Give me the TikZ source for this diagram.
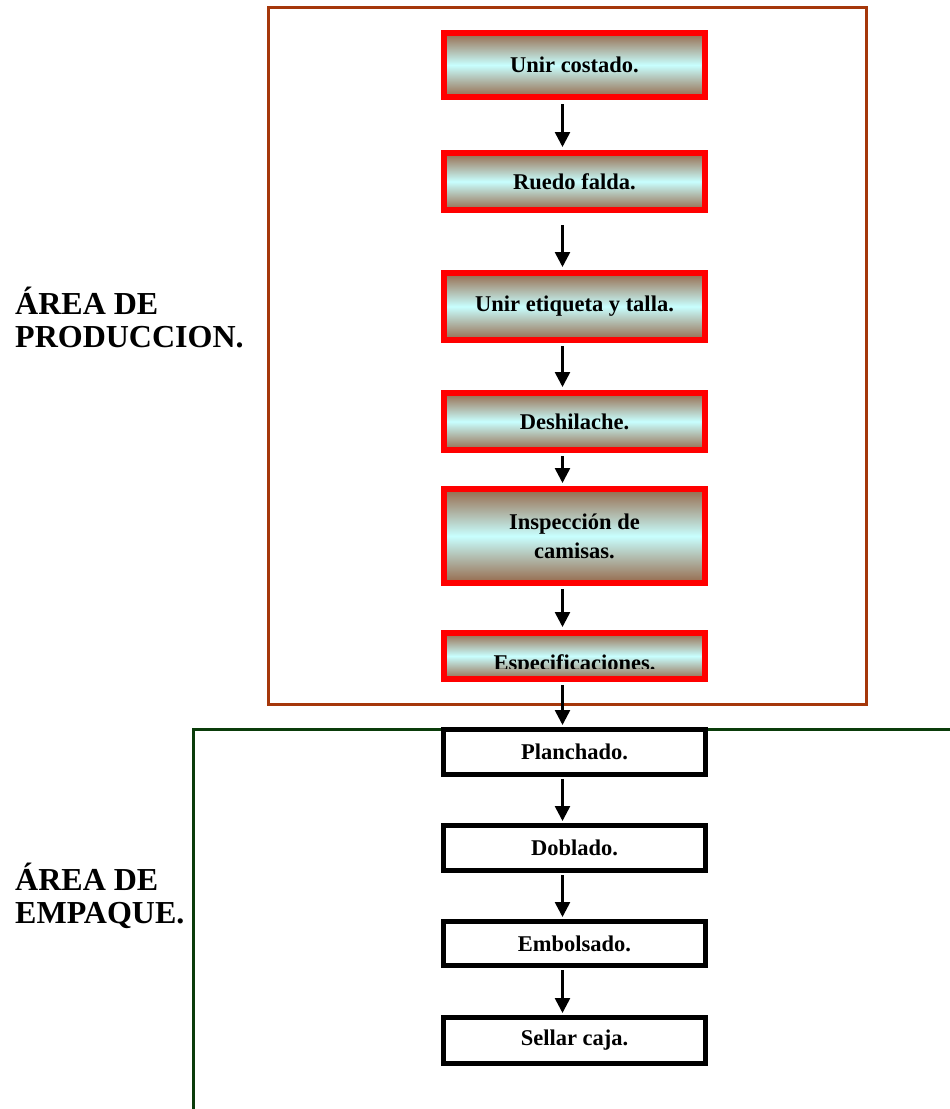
\documentclass[tikz,border=0pt]{standalone}
\usepackage{fontspec}
\setmainfont{Liberation Serif}
\usetikzlibrary{arrows.meta}
\definecolor{areabrown}{RGB}{165,55,10}
\definecolor{areagreen}{RGB}{10,60,10}
\definecolor{shadebrown}{RGB}{150,105,75}
\definecolor{shadecyan}{RGB}{200,255,255}
\tikzset{
  boxfont/.style={font=\fontsize{22.5}{29}\selectfont\bfseries},
  redbox/.style={draw=red, line width=6pt, top color=shadebrown, bottom color=shadebrown, middle color=shadecyan, minimum width=261pt, align=center, boxfont, inner sep=0pt},
  blackbox/.style={draw=black, line width=5pt, fill=white, minimum width=262pt, align=center, boxfont, inner sep=0pt},
  flow/.style={-{Triangle[width=15pt,length=15pt]}, line width=2.6pt, black},
  arealabel/.style={anchor=base west, font=\fontsize{32}{29}\selectfont\bfseries, inner sep=0pt}
}
\begin{document}
\begin{tikzpicture}[x=1pt,y=-1pt]
\useasboundingbox (0,0) rectangle (950,1109);
% areas
\draw[areabrown, line width=3pt] (268,7) rectangle (866,704);
\draw[areagreen, line width=3pt] (193,1109) -- (193,729) -- (950,729);
\node[arealabel] (lp1) at (15,314) {ÁREA DE};
\node[arealabel] (lp2) at (15,347) {PRODUCCION.};
\node[arealabel] (le1) at (15,890) {ÁREA DE};
\node[arealabel] (le2) at (15,923) {EMPAQUE.};
% red boxes
\node[redbox, minimum height=64pt] (b1) at (574.5,65) {Unir costado.};
\node[redbox, minimum height=57pt] (b2) at (574.5,181.5) {Ruedo falda.};
\node[redbox, minimum height=67pt] (b3) at (574.5,306.5) {Unir etiqueta y talla.};
\node[redbox, minimum height=57pt] (b4) at (574.5,421.5) {Deshilache.};
\node[redbox, minimum height=94pt] (b5) at (574.5,536) {Inspección de\\camisas.};
\node[redbox, minimum height=46pt] (b6) at (574.5,656) {};
\begin{scope}
\clip (444,633) rectangle (705,668);
\node[boxfont, inner sep=0pt, anchor=base] (t6) at (574.5,670) {Especificaciones.};
\end{scope}
% black boxes
\node[blackbox, minimum height=45pt] (c1) at (574.5,752) {Planchado.};
\node[blackbox, minimum height=45pt] (c2) at (574.5,848) {Doblado.};
\node[blackbox, minimum height=44pt] (c3) at (574.5,943.5) {Embolsado.};
\node[blackbox, minimum height=46pt] (c4) at (574.5,1040.5) {Sellar caja.};
% arrows
\tikzset{ax/.style={xshift=-12pt}}
\draw[flow] ([ax,yshift=-4pt]b1.south) -- ([ax,yshift=3pt]b2.north);
\draw[flow] ([ax,yshift=-12pt]b2.south) -- ([ax,yshift=3pt]b3.north);
\draw[flow] ([ax,yshift=-3pt]b3.south) -- ([ax,yshift=3pt]b4.north);
\draw[flow] ([ax,yshift=-3pt]b4.south) -- ([ax,yshift=3pt]b5.north);
\draw[flow] ([ax,yshift=-3pt]b5.south) -- ([ax,yshift=3pt]b6.north);
\draw[flow] ([ax,yshift=-3pt]b6.south) -- ([ax,yshift=2pt]c1.north);
\draw[flow] ([ax,yshift=-2pt]c1.south) -- ([ax,yshift=2pt]c2.north);
\draw[flow] ([ax,yshift=-2pt]c2.south) -- ([ax,yshift=2pt]c3.north);
\draw[flow] ([ax,yshift=-2pt]c3.south) -- ([ax,yshift=2pt]c4.north);
\end{tikzpicture}
\end{document}
